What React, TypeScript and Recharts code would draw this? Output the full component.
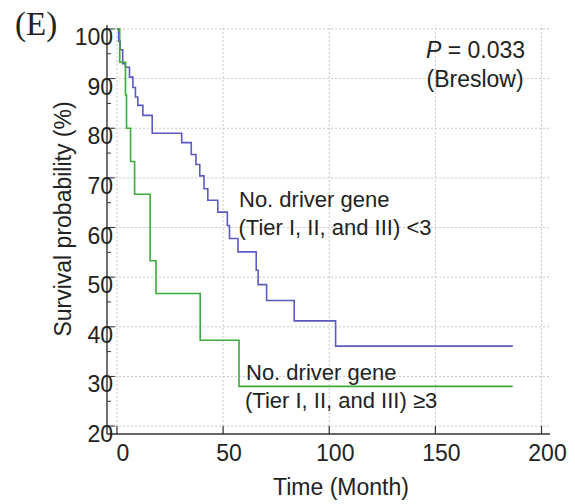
import React from "react";
import { LineChart, Line, XAxis, YAxis, ReferenceLine } from "recharts";

// Kaplan-Meier: No. driver gene (Tier I, II, and III) < 3
const lowTime = [0, 0.8, 1.5, 2.7, 4.0, 5.9, 7.5, 8.7, 9.8, 12.2, 16.6, 30.5, 35.0, 37.2, 39.0, 41.0, 42.8, 47.5, 52.0, 53.0, 57.0, 65.6, 66.5, 70.5, 83.5, 103.0, 186.5];
const lowSurv = [100, 97.5, 95.8, 93.0, 92.3, 90.3, 88.2, 86.3, 84.6, 82.6, 79.0, 77.1, 74.7, 72.7, 70.4, 67.8, 65.5, 63.1, 60.4, 57.8, 55.1, 51.4, 48.5, 45.3, 41.2, 36.1, 36.1];

// Kaplan-Meier: No. driver gene (Tier I, II, and III) >= 3
const highTime = [0, 1.3, 4.0, 4.5, 6.4, 8.3, 15.6, 18.4, 39.2, 57.5, 186.4];
const highSurv = [100, 93.3, 86.7, 80.0, 73.3, 66.7, 53.3, 46.7, 37.3, 28.0, 28.0];

const xTicks = [0, 50, 100, 150, 200];
const yTicks = [20, 25, 30, 35, 40, 45, 50, 55, 60, 65, 70, 75, 80, 85, 90, 95, 100];
const yGrid = [20, 30, 40, 50, 60, 70, 80, 90, 100];

const lowData = lowTime.map((t, i) => ({ t, s: lowSurv[i] }));
const highData = highTime.map((t, i) => ({ t, s: highSurv[i] }));

const FONT = "'Liberation Sans', Arial, sans-serif";
const TEXT = "#222";
const AXIS = "#333";
const GRID = "#c8c8c8";
const BLUE = "#5a5ac4";
const GREEN = "#3aaa3a";

const XTick = (props: any) => {
  const { x, y, payload } = props;
  return (
    <g>
      <line x1={x} x2={x} y1={y} y2={y - 8} stroke={AXIS} strokeWidth={1.2} />
      <text x={x + 6} y={y + 27} textAnchor="middle" fontSize={23} fill={TEXT} fontFamily={FONT}>
        {payload.value}
      </text>
    </g>
  );
};

const YTick = (props: any) => {
  const { x, y, payload } = props;
  const major = payload.value % 10 === 0;
  return (
    <g>
      <line x1={x} x2={x + (major ? 8 : 4)} y1={y} y2={y} stroke={AXIS} strokeWidth={1} />
      {major && (
        <text x={x + 6} y={y + 16} textAnchor="end" fontSize={23} fill={TEXT} fontFamily={FONT}>
          {payload.value}
        </text>
      )}
    </g>
  );
};

export default function App() {
  const W = 567;
  const H = 496;
  return (
    <div style={{ position: "relative", width: W, height: H }}>
      <LineChart width={W} height={H} margin={{ top: 17, right: 25, bottom: 40, left: 0 }}>
        <XAxis
          dataKey="t"
          type="number"
          domain={[-4.7, 204]}
          ticks={xTicks}
          interval={0}
          allowDataOverflow
          tickLine={false}
          tickSize={0}
          tickMargin={0}
          height={30}
          axisLine={{ stroke: AXIS, strokeWidth: 1.6 }}
          tick={<XTick />}
        />
        <YAxis
          type="number"
          domain={[18.4, 100.8]}
          ticks={yTicks}
          interval={0}
          allowDataOverflow
          tickLine={false}
          tickSize={0}
          tickMargin={0}
          width={99}
          axisLine={{ stroke: AXIS, strokeWidth: 1.4 }}
          tick={<YTick />}
        />
        {xTicks.map((v) => (
          <ReferenceLine key={"gx" + v} x={v} stroke={GRID} strokeDasharray="2 2" strokeWidth={1} />
        ))}
        {yGrid.map((v) => (
          <ReferenceLine key={"gy" + v} y={v} stroke={GRID} strokeDasharray="2 2" strokeWidth={1} />
        ))}
        <Line
          data={lowData}
          dataKey="s"
          type="stepAfter"
          stroke={BLUE}
          strokeWidth={1.6}
          dot={false}
          isAnimationActive={false}
        />
        <Line
          data={highData}
          dataKey="s"
          type="stepAfter"
          stroke={GREEN}
          strokeWidth={1.6}
          dot={false}
          isAnimationActive={false}
        />
      </LineChart>
      <svg
        width={W}
        height={H}
        style={{ position: "absolute", left: 0, top: 0, overflow: "visible", pointerEvents: "none" }}
      >
        <text x={7} y={27} fontSize={33} fontWeight="normal" fill={TEXT} fontFamily="'Liberation Serif', 'Times New Roman', serif">
          (E)
        </text>
        <text x={-8} y={439} fontSize={23} fill={TEXT} fontFamily={FONT}>)</text>
        <text x={418} y={50} fontSize={23} fill={TEXT} fontFamily={FONT}>
          <tspan fontStyle="italic">P</tspan> = 0.033
        </text>
        <text x={418.5} y={79} fontSize={23} fill={TEXT} fontFamily={FONT}>(Breslow)</text>
        <text x={231} y={199} fontSize={22} fill={TEXT} fontFamily={FONT}>No. driver gene</text>
        <text x={230.5} y={227} fontSize={22} fill={TEXT} fontFamily={FONT}>(Tier I, II, and III) &lt;3</text>
        <text x={238} y={372} fontSize={22} fill={TEXT} fontFamily={FONT}>No. driver gene</text>
        <text x={237} y={400} fontSize={22} fill={TEXT} fontFamily={FONT}>(Tier I, II, and III) ≥3</text>
        <text
          x={63}
          y={211}
          fontSize={23}
          fill={TEXT}
          fontFamily={FONT}
          textAnchor="middle"
          transform="rotate(-90, 63, 211)"
        >
          Survival probability (%)
        </text>
        <text x={333} y={487} fontSize={23} fill={TEXT} fontFamily={FONT} textAnchor="middle">
          Time (Month)
        </text>
      </svg>
    </div>
  );
}
